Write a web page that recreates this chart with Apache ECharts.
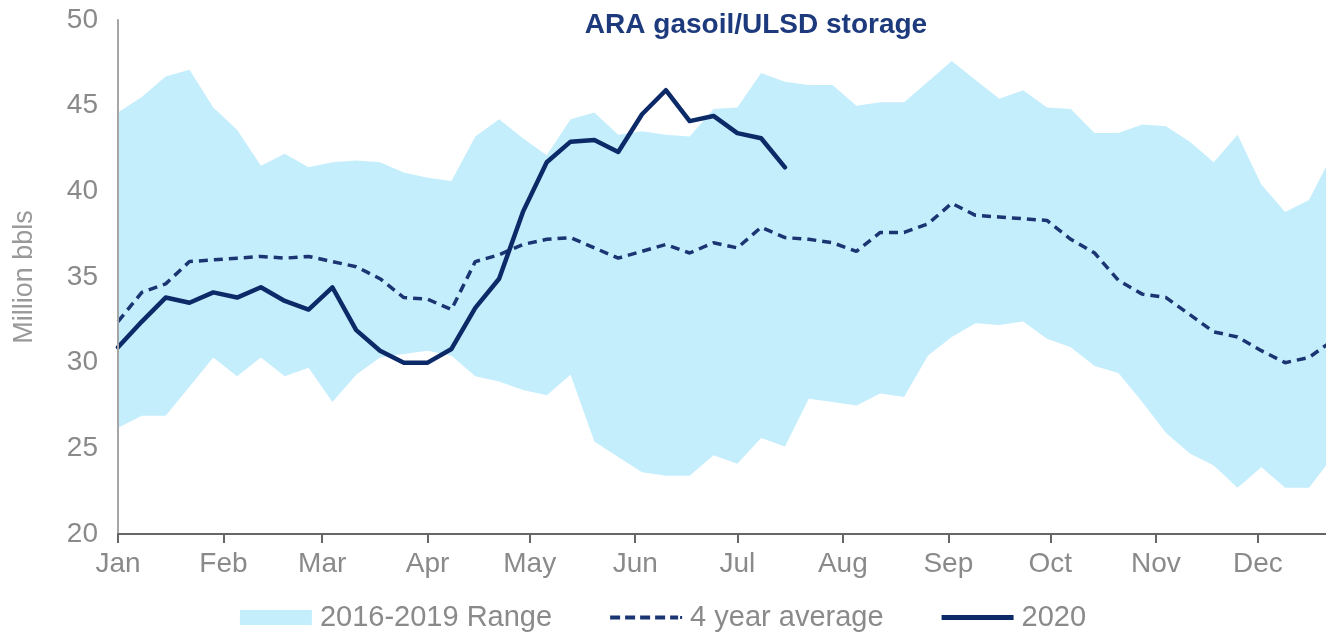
<!DOCTYPE html>
<html>
<head>
<meta charset="utf-8">
<title>ARA gasoil/ULSD storage</title>
<script src="https://cdn.jsdelivr.net/npm/echarts@6/dist/echarts.min.js"></script>
<style>
  html, body { margin: 0; padding: 0; background: #fff; }
  #chart { width: 1326px; height: 642px; }
</style>
</head>
<body>
<div id="chart"></div>
<script>
// month labels and the day of year each month starts on
const monthLabels = ['Jan', 'Feb', 'Mar', 'Apr', 'May', 'Jun', 'Jul', 'Aug', 'Sep', 'Oct', 'Nov', 'Dec'];
const monthStartDays = [0, 31, 60, 91, 121, 152, 182, 213, 244, 274, 305, 335];

// weekly values, week 0 = 1 Jan (million bbls)
const rangeHigh = [44.6, 45.5, 46.7, 47.1, 44.9, 43.6, 41.5, 42.2, 41.4, 41.7, 41.8, 41.7, 41.1,
  40.8, 40.6, 43.2, 44.2, 43.1, 42.1, 44.2, 44.6, 43.3, 43.5, 43.3, 43.2, 44.8, 44.9, 46.9,
  46.4, 46.2, 46.2, 45.0, 45.2, 45.2, 46.4, 47.6, 46.5, 45.4, 45.9, 44.9, 44.8, 43.4, 43.4,
  43.9, 43.8, 42.9, 41.7, 43.3, 40.4, 38.8, 39.5, 42.2];
const rangeLow = [26.2, 26.9, 26.9, 28.6, 30.3, 29.2, 30.3, 29.2, 29.7, 27.7, 29.3, 30.3, 30.5,
  30.7, 30.4, 29.2, 28.9, 28.4, 28.1, 29.3, 25.4, 24.5, 23.6, 23.4, 23.4, 24.6, 24.1, 25.6,
  25.1, 27.9, 27.7, 27.5, 28.2, 28.0, 30.4, 31.5, 32.3, 32.2, 32.4, 31.4, 30.9, 29.8, 29.4,
  27.7, 25.9, 24.7, 24.0, 22.7, 23.9, 22.7, 22.7, 24.5];
const fourYearAvg = [32.4, 34.1, 34.6, 35.9, 36.0, 36.1, 36.2, 36.1, 36.2, 35.9, 35.6, 34.9, 33.8,
  33.7, 33.1, 35.9, 36.3, 36.9, 37.2, 37.3, 36.7, 36.1, 36.5, 36.9, 36.4, 37.0, 36.7, 37.9,
  37.3, 37.2, 37.0, 36.5, 37.6, 37.6, 38.1, 39.3, 38.6, 38.5, 38.4, 38.3, 37.2, 36.4, 34.8,
  34.0, 33.8, 32.8, 31.8, 31.5, 30.7, 30.0, 30.3, 31.3];
const y2020 = [30.9, 32.4, 33.8, 33.5, 34.1, 33.8, 34.4, 33.6, 33.1, 34.4, 31.9, 30.7, 30.0,
  30.0, 30.8, 33.2, 34.9, 38.8, 41.7, 42.9, 43.0, 42.3, 44.5, 45.9, 44.1, 44.4, 43.4, 43.1, 41.4];
const yTicks = [20, 25, 30, 35, 40, 45, 50];

const toPairs = arr => arr.map((v, i) => [i * 7, v]);

const grey = '#8a8a8a';
const navy = '#0c2a68';
const dashNavy = '#1a3572';
const fill = '#c5eefd';
const font = 'Liberation Sans, Arial, sans-serif';

// legend icons: full 72x15 box set by the two moves, line drawn in the middle
const dashIcon = 'path://M0,0M72,15M0,5.5h10v4h-10zM15,5.5h10v4h-10zM30,5.5h10v4h-10zM45,5.5h10v4h-10zM60,5.5h8v4h-8zM70,6h2v3h-2z';
const solidIcon = 'path://M0,0M72,15M0,5h72v5h-72z';

const chart = echarts.init(document.getElementById('chart'));
chart.setOption({
  backgroundColor: '#fff',
  animation: false,
  textStyle: { fontFamily: font },
  title: {
    text: 'ARA gasoil/ULSD storage',
    left: 751,
    top: 6,
    textAlign: 'center',
    textStyle: { color: '#1d3a7c', fontSize: 28, fontWeight: 'bold', fontFamily: font }
  },
  grid: { left: 118, right: 0, top: 20, bottom: 108, containLabel: false },
  legend: {
    bottom: 5,
    left: 'center',
    itemWidth: 72,
    itemHeight: 15,
    itemGap: 58,
    textStyle: { color: grey, fontSize: 29, fontFamily: font, padding: [0, 0, 0, 3] },
    data: [
      { name: '2016-2019 Range', icon: 'rect', itemStyle: { color: fill } },
      { name: '4 year average', icon: dashIcon, itemStyle: { color: dashNavy } },
      { name: '2020', icon: solidIcon, itemStyle: { color: navy } }
    ]
  },
  xAxis: {
    type: 'value',
    min: 0,
    max: 355,
    z: 5,
    splitLine: { show: false },
    axisLine: { onZero: false, lineStyle: { color: '#666', width: 2 } },
    axisTick: { customValues: monthStartDays, length: 9, lineStyle: { color: '#666', width: 2 } },
    axisLabel: {
      customValues: monthStartDays,
      color: grey, fontSize: 28, margin: 16,
      formatter: v => monthLabels[monthStartDays.indexOf(v)] || ''
    }
  },
  yAxis: {
    type: 'value',
    min: yTicks[0],
    max: yTicks[yTicks.length - 1],
    interval: 5,
    z: 5,
    name: 'Million bbls',
    nameLocation: 'middle',
    nameRotate: 90,
    nameGap: 80,
    nameTextStyle: { color: '#999', fontSize: 27, fontFamily: font },
    splitLine: { show: false },
    axisTick: { show: false },
    axisLine: { show: true, onZero: false, lineStyle: { color: '#a6a6a6', width: 2 } },
    axisLabel: { color: grey, fontSize: 28, margin: 20 }
  },
  series: [
    {
      // upper edge of the range, filled down to the axis
      name: '2016-2019 Range',
      type: 'line',
      data: toPairs(rangeHigh),
      symbol: 'none',
      itemStyle: { color: fill },
      lineStyle: { width: 0, opacity: 0 },
      areaStyle: { color: fill, opacity: 1, origin: 'start' },
      z: 1
    },
    {
      // lower edge of the range, white fill below it
      name: 'rangeLow',
      type: 'line',
      data: toPairs(rangeLow),
      symbol: 'none',
      itemStyle: { color: '#fff' },
      lineStyle: { width: 0, opacity: 0 },
      areaStyle: { color: '#fff', opacity: 1, origin: 'start' },
      z: 2
    },
    {
      name: '4 year average',
      type: 'line',
      data: toPairs(fourYearAvg),
      symbol: 'none',
      itemStyle: { color: dashNavy },
      lineStyle: { color: dashNavy, width: 3.5, type: [9, 6] },
      z: 3
    },
    {
      name: '2020',
      type: 'line',
      data: toPairs(y2020),
      symbol: 'none',
      itemStyle: { color: navy },
      lineStyle: { color: navy, width: 4.5, cap: 'round', join: 'round' },
      z: 4
    }
  ]
});
</script>
</body>
</html>
